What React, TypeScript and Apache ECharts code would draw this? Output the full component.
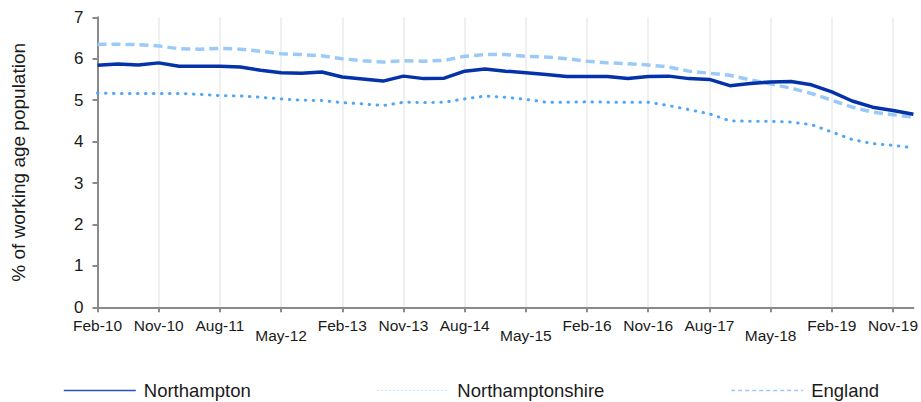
import React, { useEffect, useRef } from "react";
import * as echarts from "echarts";

const categories = [
  "Feb-10", "May-10", "Aug-10", "Nov-10", "Feb-11", "May-11", "Aug-11", "Nov-11",
  "Feb-12", "May-12", "Aug-12", "Nov-12", "Feb-13", "May-13", "Aug-13", "Nov-13",
  "Feb-14", "May-14", "Aug-14", "Nov-14", "Feb-15", "May-15", "Aug-15", "Nov-15",
  "Feb-16", "May-16", "Aug-16", "Nov-16", "Feb-17", "May-17", "Aug-17", "Nov-17",
  "Feb-18", "May-18", "Aug-18", "Nov-18", "Feb-19", "May-19", "Aug-19", "Nov-19",
  "Feb-20",
];

const northampton = [
  5.84, 5.87, 5.85, 5.9, 5.82, 5.82, 5.82, 5.8, 5.72, 5.66,
  5.65, 5.68, 5.56, 5.51, 5.46, 5.58, 5.52, 5.53, 5.7, 5.75,
  5.7, 5.66, 5.62, 5.57, 5.57, 5.57, 5.52, 5.57, 5.58, 5.52,
  5.5, 5.35, 5.4, 5.44, 5.45, 5.37, 5.2, 4.98, 4.83, 4.75,
  4.66,
];

const northamptonshire = [
  5.17, 5.16, 5.16, 5.16, 5.16, 5.14, 5.11, 5.1, 5.07, 5.03,
  5.0, 4.99, 4.94, 4.91, 4.87, 4.95, 4.94, 4.95, 5.03, 5.1,
  5.07, 5.02, 4.95, 4.95, 4.96, 4.95, 4.95, 4.95, 4.87, 4.77,
  4.67, 4.5, 4.49, 4.49, 4.47, 4.41, 4.23, 4.05, 3.95, 3.91,
  3.85,
];

const england = [
  6.35, 6.35, 6.34, 6.31, 6.24, 6.23, 6.25, 6.23, 6.18, 6.12,
  6.1, 6.07, 6.0, 5.95, 5.92, 5.95, 5.94, 5.96, 6.06, 6.1,
  6.1, 6.06, 6.04, 6.0, 5.94, 5.9, 5.88, 5.85, 5.8, 5.7,
  5.65, 5.6, 5.49, 5.39, 5.29, 5.16, 5.0, 4.83, 4.71, 4.65,
  4.59,
];

const lowLabels = ["May-12", "May-15", "May-18"];

const FONT = "'Liberation Sans', Arial, sans-serif";

export default function App() {
  const ref = useRef<HTMLDivElement>(null);

  useEffect(() => {
    if (!ref.current) return;
    const chart = echarts.init(ref.current, null, { renderer: "svg" });
    chart.setOption({
      animation: false,
      backgroundColor: "#ffffff",
      textStyle: { fontFamily: FONT },
      grid: { left: 97.5, top: 17.3, right: 2.3, bottom: 94.7, containLabel: false },
      legend: {
        left: 58,
        top: 376,
        itemWidth: 72,
        itemHeight: 14,
        itemGap: 126,
        textStyle: { fontSize: 18.5, color: "#1a1a1a", fontFamily: FONT, padding: [0, 0, 0, 3] },
        itemStyle: { opacity: 0 },
        data: [
          { name: "Northampton", lineStyle: { color: "#2350c4", width: 1.6, type: "solid" } },
          { name: "Northamptonshire", lineStyle: { color: "#cfe5fb", width: 1.2, type: [1.5, 2.5] } },
          { name: "England", lineStyle: { color: "#9ccaf8", width: 1.6, type: [4, 3] } },
        ],
      },
      xAxis: {
        type: "category",
        data: categories,
        boundaryGap: false,
        axisLine: { lineStyle: { color: "#8a8a8a", width: 2 } },
        axisTick: { show: true, interval: 2, length: 5, lineStyle: { color: "#8a8a8a", width: 2 } },
        splitLine: { show: true, interval: 2, lineStyle: { color: "#ebebeb", width: 1.5 } },
        axisLabel: {
          interval: 2,
          margin: 10,
          fontSize: 15.5,
          color: "#1a1a1a",
          fontFamily: FONT,
          formatter: (v: string) => (lowLabels.includes(v) ? "{low|" + v + "}" : v),
          rich: {
            low: { fontSize: 15.5, color: "#1a1a1a", fontFamily: FONT, padding: [10, 0, 0, 0] },
          },
        },
      },
      yAxis: {
        type: "value",
        min: 0,
        max: 7,
        interval: 1,
        name: "% of working age population",
        nameLocation: "middle",
        nameRotate: 90,
        nameGap: 70,
        nameTextStyle: { fontSize: 19, color: "#1a1a1a", fontFamily: FONT },
        axisLine: { show: true, lineStyle: { color: "#8a8a8a", width: 2 } },
        axisTick: { show: true, length: 5, lineStyle: { color: "#8a8a8a", width: 2 } },
        splitLine: { show: false },
        axisLabel: { fontSize: 17, color: "#1a1a1a", margin: 14, fontFamily: FONT },
      },
      series: [
        {
          name: "Northampton",
          type: "line",
          data: northampton,
          symbol: "none",
          lineStyle: { color: "#0432a8", width: 3.5 },
          itemStyle: { color: "#0432a8" },
          z: 3,
        },
        {
          name: "Northamptonshire",
          type: "line",
          data: northamptonshire,
          symbol: "none",
          lineStyle: { color: "#4ea6f8", width: 3, type: [0.5, 7.5], cap: "round" },
          itemStyle: { color: "#4ea6f8" },
          z: 2,
        },
        {
          name: "England",
          type: "line",
          data: england,
          symbol: "none",
          lineStyle: { color: "#9ccaf8", width: 3.5, type: [9, 5] },
          itemStyle: { color: "#9ccaf8" },
          z: 2,
        },
      ],
    });
    return () => chart.dispose();
  }, []);

  return (
    <div
      ref={ref}
      style={{ position: "fixed", left: 0, top: 0, width: 921, height: 402, background: "#fff" }}
    />
  );
}
